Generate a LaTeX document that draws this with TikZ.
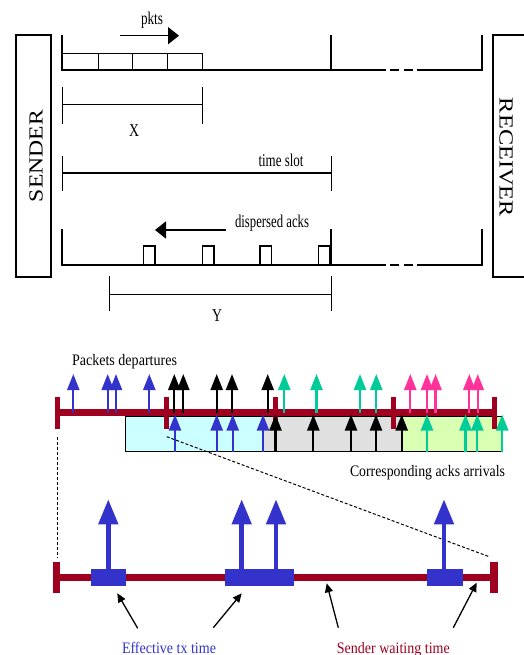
\documentclass[tikz,border=0pt]{standalone}
\usepackage{fontspec}
\setmainfont{Liberation Serif}
\usetikzlibrary{arrows.meta}

\definecolor{barred}{RGB}{160,0,32}
\definecolor{txblue}{RGB}{51,51,204}
\definecolor{ackgreen}{RGB}{0,204,153}
\definecolor{ackpink}{RGB}{255,51,153}
\definecolor{fillcyan}{RGB}{204,255,255}
\definecolor{fillgray}{RGB}{224,224,224}
\definecolor{fillgreen}{RGB}{217,255,179}

% set a label to a given width, keeping its natural height
\newcommand\fitw[2]{\resizebox{#1}{\height}{#2}}

\begin{document}
\begin{tikzpicture}[x=1pt,y=-1pt,
  chan/.style={line width=2.6pt},
  thinline/.style={line width=1pt},
  lbl/.style={inner sep=0pt,anchor=base},
  toplbl/.style={lbl,font=\fontsize{18}{18}\selectfont},
  botlbl/.style={lbl,font=\fontsize{16}{16}\selectfont},
  sideb/.style={inner sep=0pt,font=\fontsize{20}{20}\selectfont},
  bigarrow/.style={line width=1.6pt,-{Triangle[length=11pt,width=17pt]}},
  bar/.style={barred,line width=6.5pt},
  tick/.style={barred,line width=5pt},
  dep/.style={line width=2.3pt,-{Triangle[length=16pt,width=12pt]}},
  tall/.style={txblue,line width=4.6pt,-{Triangle[length=25pt,width=19pt]}},
  note/.style={line width=1.3pt,-{Triangle[length=9pt,width=8pt]}},
  zoomline/.style={line width=1pt,dash pattern=on 3pt off 2pt}]

\useasboundingbox (0,0) rectangle (523,655);
\fill[white] (0,0) rectangle (523,655);

% ---------- end systems ----------
\draw[line width=1.2pt] (16,35) rectangle (51,277);
\draw[line width=1.2pt] (493,35) rectangle (540,277);
\node[sideb,rotate=90] (sender) at (36,156) {\fitw{92pt}{SENDER}};
\node[sideb,rotate=-90] (receiver) at (506,157.5) {\fitw{119pt}{RECEIVER}};

% ---------- forward channel ----------
\draw[chan] (62,35) -- (62,70) -- (385.5,70);
\draw[chan] (390,70) -- (398.5,70);
\draw[chan] (403.5,70) -- (412.5,70);
\draw[chan] (416.5,70) -- (482,70) -- (482,35);
\draw[chan] (331,35) -- (331,70);
% queued packets
\draw[thinline] (62,54) rectangle (202,70);
\foreach \xx in {98,132,167} \draw[thinline] (\xx,54) -- (\xx,70);
\coordinate (pk0) at (120,35.7);
\coordinate (pk1) at (179,35.7);
\draw[bigarrow] (pk0) -- (pk1);
\node[toplbl] (pkts) at (152,25) {\fitw{22pt}{pkts}};

% X span
\draw[thinline] (62,87) -- (62,124) (202,87) -- (202,124) (62,105) -- (202,105);
\node[toplbl] (xlab) at (134,136.5) {\fitw{10pt}{X}};

% time slot span
\draw[thinline] (62,156) -- (62,191) (331,156) -- (331,191) (62,173) -- (331,173);
\node[toplbl] (tslot) at (281,166.5) {\fitw{45pt}{time slot}};

% ---------- return channel ----------
\coordinate (ak0) at (226,230);
\coordinate (ak1) at (155,230);
\draw[bigarrow] (ak0) -- (ak1);
\node[toplbl] (dacks) at (272,227) {\fitw{74pt}{dispersed acks}};
\draw[chan] (62,229) -- (62,265) -- (385.5,265);
\draw[chan] (390,265) -- (398.5,265);
\draw[chan] (403.5,265) -- (412.5,265);
\draw[chan] (416.5,265) -- (482,265) -- (482,229);
\draw[chan] (331,229) -- (331,265);
\foreach \xa/\xb in {143.5/155,202.5/214,260/271.5,318.5/330}
  \draw[line width=1.2pt] (\xa,265) -- (\xa,246) -- (\xb,246) -- (\xb,265);

% Y span
\draw[thinline] (109.5,276) -- (109.5,311) (331,276) -- (331,311) (109.5,294) -- (331,294);
\node[toplbl] (ylab) at (217,321.5) {\fitw{10pt}{Y}};

% ---------- departures / ack arrivals ----------
\node[botlbl] (pdep) at (124.5,365) {\fitw{105pt}{Packets departures}};
\node[botlbl] (aarr) at (427.5,476) {\fitw{155pt}{Corresponding acks arrivals}};

\draw[thinline,fill=fillcyan] (125,416.5) rectangle (263,451.5);
\draw[thinline,fill=fillgray] (263,416.5) rectangle (402,451.5);
\draw[thinline,fill=fillgreen] (402,416.5) rectangle (502,451.5);

\draw[bar] (57,412.7) -- (495,412.7);
\foreach \xx in {57,166,275,393,494} \draw[tick] (\xx,397) -- (\xx,429);

% packets leaving the sender
\foreach \xx in {73.3,107.7,116,149.3} \draw[dep,txblue] (\xx,413) -- (\xx,374);
\foreach \xx in {174.3,183.3,216.7,232,267.7} \draw[dep,black] (\xx,413) -- (\xx,374);
\foreach \xx in {284.3,316.5,360,376.3} \draw[dep,ackgreen] (\xx,413) -- (\xx,374);
\foreach \xx in {410.3,427,435.6,469.3,477.8} \draw[dep,ackpink] (\xx,413) -- (\xx,374);

% acks coming back
\foreach \xx in {175,216.7,232.7,263} \draw[dep,txblue] (\xx,451.5) -- (\xx,414.5);
\foreach \xx in {275.5,313.3,351,376,401.7} \draw[dep,black] (\xx,451.5) -- (\xx,414.5);
\foreach \xx in {427,465.5,477.3,502.2} \draw[dep,ackgreen] (\xx,451.5) -- (\xx,414.5);

% ---------- enlarged time slot ----------
\coordinate (zl0) at (57.3,437);
\coordinate (zl1) at (57.3,558);
\coordinate (zr0) at (166.7,436.7);
\coordinate (zr1) at (490,557);
\draw[zoomline] (zl0) -- (zl1);
\draw[zoomline] (zr0) -- (zr1);

\draw[barred,line width=7pt] (57,577.5) -- (494,577.5);
\draw[barred,line width=7.5pt] (56.7,561.5) -- (56.7,593);
\draw[barred,line width=7.5pt] (494,561.5) -- (494,593);

\fill[txblue] (90.7,569) rectangle (126,585.7);
\fill[txblue] (225.3,569) rectangle (294,585.7);
\fill[txblue] (427.3,569) rectangle (462.7,585.7);
\foreach \xx in {108.3,241.7,276,444} \draw[tall] (\xx,570) -- (\xx,499.3);

% annotations
\node[botlbl,text=txblue] (eff) at (169,653) {\fitw{94pt}{Effective tx time}};
\node[botlbl,text=barred] (swait) at (393.3,653) {\fitw{113pt}{Sender waiting time}};
\coordinate (n1a) at (137.7,628.3);  \coordinate (n1b) at (117.3,593.3);
\coordinate (n2a) at (213.3,627.7);  \coordinate (n2b) at (241.7,593.3);
\coordinate (n3a) at (338.3,627.7);  \coordinate (n3b) at (326.7,583.3);
\coordinate (n4a) at (453.3,627.7);  \coordinate (n4b) at (476.7,582.7);
\draw[note] (n1a) -- (n1b);
\draw[note] (n2a) -- (n2b);
\draw[note] (n3a) -- (n3b);
\draw[note] (n4a) -- (n4b);
\end{tikzpicture}
\end{document}
